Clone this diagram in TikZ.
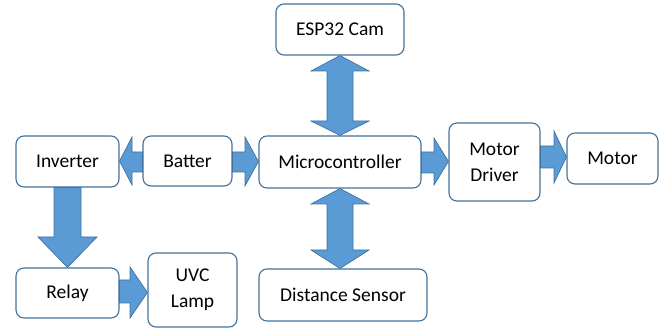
\documentclass[tikz,border=0pt]{standalone}
\usepackage{fontspec}
\setmainfont{Carlito}
\definecolor{boxline}{HTML}{41719C}
\definecolor{arrfill}{HTML}{5B9BD5}
\begin{document}
\begin{tikzpicture}[x=1pt,y=-1pt,
  box/.style={draw=boxline,line width=1.1pt,fill=white,rounded corners=8pt,
    inner sep=0pt,align=center,font=\fontsize{19.5}{26}\selectfont},
  blk/.style={draw=boxline,line width=0.7pt,fill=arrfill,line join=miter}]
\useasboundingbox (0,0) rectangle (661,328);
% boxes
\node[box,minimum width=103pt,minimum height=51pt] (inv) at (67.5,161.5) {Inverter};
\node[box,minimum width=89pt,minimum height=50pt] (bat) at (187.5,161) {Batter};
\node[box,minimum width=162pt,minimum height=52pt] (mc) at (340,162) {Microcontroller};
\node[box,minimum width=128pt,minimum height=51pt] (esp) at (340,29.5) {ESP32 Cam};
\node[box,minimum width=168pt,minimum height=52pt] (dist) at (343,295) {Distance Sensor};
\node[box,minimum width=103pt,minimum height=50pt] (rel) at (67.5,293) {Relay};
\node[box,minimum width=89pt,minimum height=74pt] (uvc) at (192.5,290) {UVC\\Lamp};
\node[box,minimum width=91pt,minimum height=78pt] (drv) at (494.5,162) {Motor\\Driver};
\node[box,minimum width=91pt,minimum height=51pt] (mot) at (612.5,158.5) {Motor};
% block arrows
% Batter -> Inverter
\draw[blk] (bat.west |- 0,152) -- (132,152) -- (132,137) -- (inv.east |- 0,161)
  -- (132,185) -- (132,172) -- (bat.west |- 0,172) -- cycle;
% Batter -> Microcontroller
\draw[blk] (bat.east |- 0,152) -- (245,152) -- (245,137) -- (mc.west |- 0,161.5)
  -- (245,186) -- (245,172) -- (bat.east |- 0,172) -- cycle;
% Inverter -> Relay
\draw[blk] (54,0 |- inv.south) -- (54,237) -- (38,237) -- (rel.north)
  -- (97,237) -- (81,237) -- (81,0 |- inv.south) -- cycle;
% Relay -> UVC Lamp
\draw[blk] (rel.east |- 0,280) -- (130,280) -- (130,267) -- (uvc.west |- 0,292.5)
  -- (130,318) -- (130,303) -- (rel.east |- 0,303) -- cycle;
% ESP32 <-> Microcontroller
\draw[blk] (esp.south) -- (369,71) -- (353,71) -- (353,121) -- (369,121) -- (mc.north)
  -- (311,121) -- (327,121) -- (327,71) -- (311,71) -- cycle;
% Microcontroller <-> Distance Sensor
\draw[blk] (mc.south) -- (369,204) -- (353,204) -- (353,250) -- (369,250)
  -- (340,0 |- dist.north) -- (311,250) -- (327,250) -- (327,204) -- (311,204) -- cycle;
% Microcontroller -> Motor Driver
\draw[blk] (mc.east |- 0,152) -- (434,152) -- (434,138) -- (drv.west |- 0,161.5)
  -- (434,185) -- (434,173) -- (mc.east |- 0,173) -- cycle;
% Motor Driver -> Motor
\draw[blk] (drv.east |- 0,146) -- (554,146) -- (554,131) -- (mot.west |- 0,157)
  -- (554,183) -- (554,168) -- (drv.east |- 0,168) -- cycle;
\end{tikzpicture}
\end{document}
